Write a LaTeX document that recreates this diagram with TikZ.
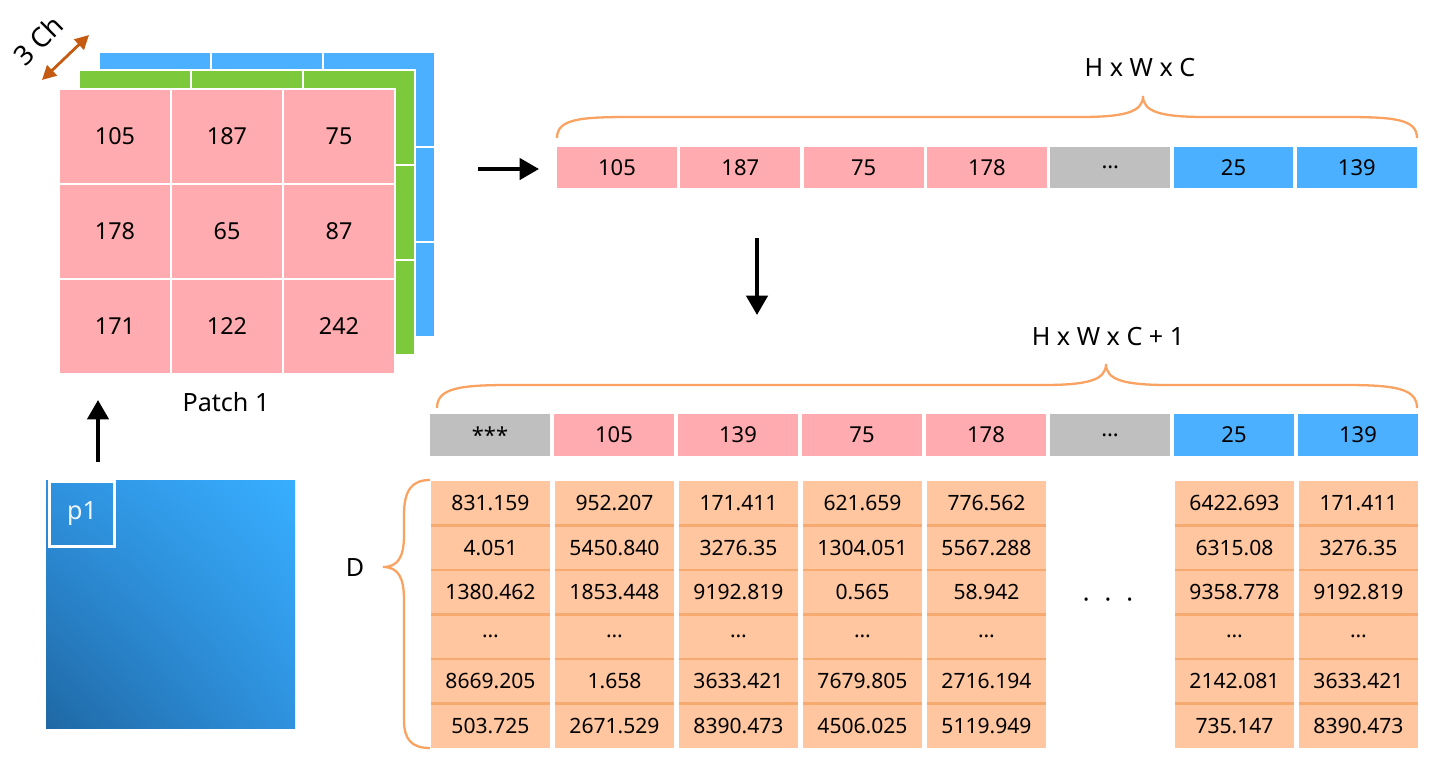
\documentclass[tikz,border=0pt]{standalone}
\usepackage{fontspec}
\setmainfont{Noto Sans}
\usetikzlibrary{arrows.meta,shadings}

\definecolor{chPink}{HTML}{FFABAF}
\definecolor{chGreen}{HTML}{7DC93C}
\definecolor{chBlue}{HTML}{4BB0FF}
\definecolor{cellGray}{HTML}{BFBFBF}
\definecolor{embFill}{HTML}{FFC69F}
\definecolor{embLine}{HTML}{F6AA70}
\definecolor{braceOrange}{HTML}{F9A261}
\definecolor{chArrow}{HTML}{C55A11}
\definecolor{imgDark}{HTML}{1F68A4}
\definecolor{imgMid}{HTML}{2F92DF}
\definecolor{imgLight}{HTML}{38AEFF}

\tikzset{
	patchnum/.style={font=\fontsize{13.3}{15}\selectfont},
	seqcell/.style={minimum width=2.4cm, minimum height=0.83cm, inner sep=0pt, font=\fontsize{12.5}{14}\selectfont},
	embnum/.style={font=\fontsize{12}{14}\selectfont},
	bigtext/.style={font=\fontsize{14.3}{16}\selectfont},
	bracepath/.style={draw=braceOrange, line width=1.3pt},
	flowarrow/.style={line width=2.3pt, -{Triangle[length=11pt,width=12pt]}},
}

\begin{document}
\begin{tikzpicture}[x=0.02cm, y=-0.02cm]
		\useasboundingbox (0,0) rectangle (1431,758);
		% patch: three channels
		\foreach \dx/\dy/\col in {40/-37/chBlue,20/-19/chGreen,0/0/chPink}
			\foreach \i in {0,1,2}
				\foreach \j in {0,1,2}
					\draw[white, fill=\col, line width=1pt] ({59+\dx+112*\i},{89+\dy+95*\j}) rectangle ++(112,95);
		\foreach \row [count=\j from 0] in {{105,187,75},{178,65,87},{171,122,242}}
			\foreach \v [count=\i from 0] in \row
				\node[patchnum] (p-\j-\i) at ({115+112*\i},{136+95*\j}) {\v};
		\node[bigtext] (patch) at (226,402) {Patch 1};
		% channel arrow
		\coordinate (chA) at (42,80);
		\coordinate (chB) at (89,35);
		\draw[chArrow, line width=1.6pt, {Triangle[length=8pt,width=8pt]}-{Triangle[length=8pt,width=8pt]}] (chA) -- (chB);
		\node[font=\fontsize{15.5}{17}\selectfont, rotate=45, inner sep=0pt] (ch) at (38,40) {3 Ch};
		
		% image
		\shade[upper right=imgLight, lower left=imgDark, upper left=imgMid, lower right=imgMid] (46,480) rectangle (295,728);
		\node[draw=white, line width=1.7pt, minimum size=1.3cm, text=white!92!imgMid, bigtext] (p1) at (82,514) {p1};
		\coordinate (upA) at (98,462);
		\coordinate (upB) at (98,400);
		\draw[flowarrow] (upA) -- (upB);
		
		% flattened sequence
		\coordinate (rA) at (478,169);
		\coordinate (rB) at (539,169);
		\draw[flowarrow] (rA) -- (rB);
		\foreach \v/\c [count=\i from 0] in {105/chPink,187/chPink,75/chPink,178/chPink,…/cellGray,25/chBlue,139/chBlue}
			\node[seqcell, fill=\c] (s\i) at ({617+123.3*\i},167.5) {\v};
		\draw[bracepath] (557,138) .. controls (557,119) and (580,117) .. (630,117) -- (1080,117)
			.. controls (1125,117) and (1143,112) .. (1143,96)
			.. controls (1143,112) and (1161,117) .. (1206,117) -- (1344,117)
			.. controls (1394,117) and (1417,119) .. (1417,138);
		\node[bigtext] (hwc) at (1140,68) {H x W x C};
		
		\coordinate (dA) at (757,238);
		\coordinate (dB) at (757,315);
		\draw[flowarrow] (dA) -- (dB);
		
		% sequence with extra token
		\foreach \v/\c [count=\i from 0] in {***/cellGray,105/chPink,139/chPink,75/chPink,178/chPink,…/cellGray,25/chBlue,139/chBlue}
			\node[seqcell, fill=\c] (t\i) at ({490+124*\i},435) {\v};
		\draw[bracepath] (437,408) .. controls (437,388) and (460,385) .. (510,385) -- (1043,385)
			.. controls (1088,385) and (1106,380) .. (1106,364)
			.. controls (1106,380) and (1124,385) .. (1169,385) -- (1344,385)
			.. controls (1394,385) and (1417,388) .. (1417,408);
		\node[bigtext] (hwc1) at (1108,337) {H x W x C + 1};
		
		% embedding table
		\foreach \col/\vals in {0/{831.159,4.051,1380.462,…,8669.205,503.725},
			1/{952.207,5450.840,1853.448,…,1.658,2671.529},
			2/{171.411,3276.35,9192.819,…,3633.421,8390.473},
			3/{621.659,1304.051,0.565,…,7679.805,4506.025},
			4/{776.562,5567.288,58.942,…,2716.194,5119.949},
			6/{6422.693,6315.08,9358.778,…,2142.081,735.147},
			7/{171.411,3276.35,9192.819,…,3633.421,8390.473}}{
			\fill[embFill] ({431+124*\col},481) rectangle ++(119,267);
			\foreach \j in {1,...,5}
				\draw[embLine, line width=1.3pt] ({431+124*\col},{481+44.5*\j}) -- ++(119,0);
			\foreach \v [count=\j from 0] in \vals
				\node[embnum] (e\col-\j) at ({490.5+124*\col},{503+44.6*\j}) {\v};
		}
		\node[bigtext] (dots) at (1108,603) {·\hspace{0.6em}·\hspace{0.6em}·};
		\draw[bracepath] (430,480) .. controls (412,480) and (404,490) .. (404,515) -- (404,535)
			.. controls (404,557) and (398,567) .. (383,567)
			.. controls (398,567) and (404,577) .. (404,600) -- (404,720)
			.. controls (404,740) and (412,748) .. (430,748);
		\node[bigtext] (dlab) at (355,568) {D};
	\end{tikzpicture}
\end{document}
